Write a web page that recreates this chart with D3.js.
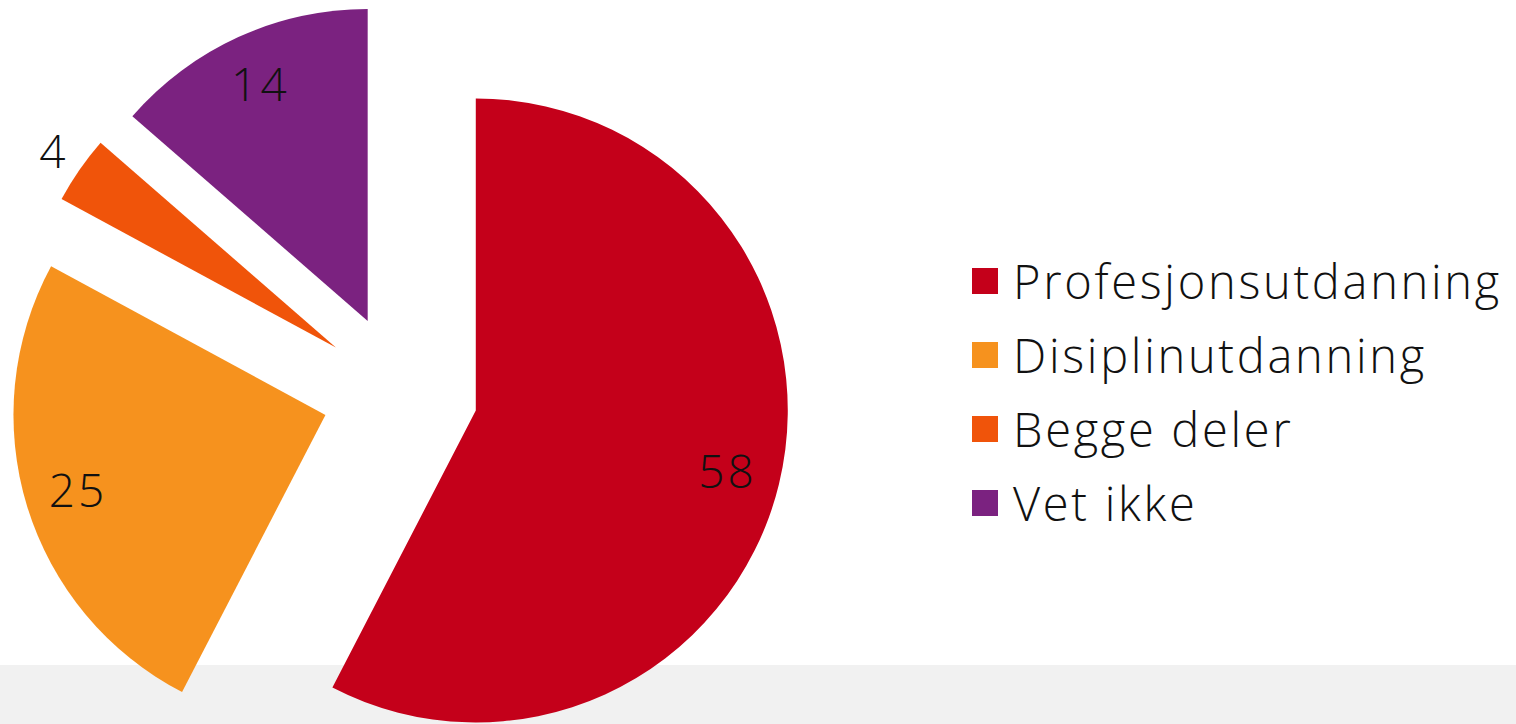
<!DOCTYPE html>
<html>
<head>
<meta charset="utf-8">
<script src="https://cdn.jsdelivr.net/npm/d3@7"></script>
<style>
  body { margin: 0; background: #fff; }
  svg { display: block; }
  text { font-family: "Open Sans", "Noto Sans", sans-serif; font-weight: 300; fill: #111; }
</style>
</head>
<body>
<div id="chart"></div>
<script>
// Data (shares in %, labels shown rounded)
const categories = ["Profesjonsutdanning", "Disiplinutdanning", "Begge deler", "Vet ikke"];
const values = [57.6, 25.3, 3.5, 13.6];
const colors = ["#c4001a", "#f6921e", "#f0540a", "#7b2280"];

// Setting up the SVG dimensions
const w = 1516;
const h = 724;

const radius = 312;
const explode = 78;
const center = { x: 400, y: 392 };
const fontSize = 46;

const svg = d3.select("#chart")
  .append("svg")
  .attr("width", w)
  .attr("height", h);

// grey band at the bottom
svg.append("rect")
  .attr("x", 0)
  .attr("y", 665)
  .attr("width", w)
  .attr("height", h - 665)
  .attr("fill", "#f1f1f1");

// Making the pie
const pie = d3.pie().sort(null)(values);
const arc = d3.arc().innerRadius(0).outerRadius(radius);

const offset = d => {
  const a = (d.startAngle + d.endAngle) / 2;
  return [Math.sin(a) * explode, -Math.cos(a) * explode];
};

const slices = svg.append("g")
  .attr("transform", `translate(${center.x},${center.y})`)
  .selectAll("g")
  .data(pie)
  .enter()
  .append("g")
  .attr("transform", d => `translate(${offset(d)})`);

slices.append("path")
  .attr("d", arc)
  .attr("fill", (d, i) => colors[i]);

// labels: inside for big slices, outside for the small one
slices.append("text")
  .attr("transform", d => {
    const r = d.value < 5 ? radius * 1.1 : radius * 0.83;
    const a = (d.startAngle + d.endAngle) / 2;
    return `translate(${Math.sin(a) * r},${-Math.cos(a) * r})`;
  })
  .attr("text-anchor", "middle")
  .attr("dy", "0.35em")
  .attr("font-size", fontSize)
  .attr("letter-spacing", 3)
  .text(d => Math.round(d.value));

// Legend
const legend = svg.append("g")
  .attr("transform", "translate(972,268)")
  .selectAll("g")
  .data(categories)
  .enter()
  .append("g")
  .attr("transform", (d, i) => `translate(0,${i * 74})`);

legend.append("rect")
  .attr("width", 26)
  .attr("height", 26)
  .attr("fill", (d, i) => colors[i]);

legend.append("text")
  .attr("x", 41)
  .attr("y", 31)
  .attr("font-size", 47)
  .attr("letter-spacing", 2.7)
  .text(d => d);
</script>
</body>
</html>
